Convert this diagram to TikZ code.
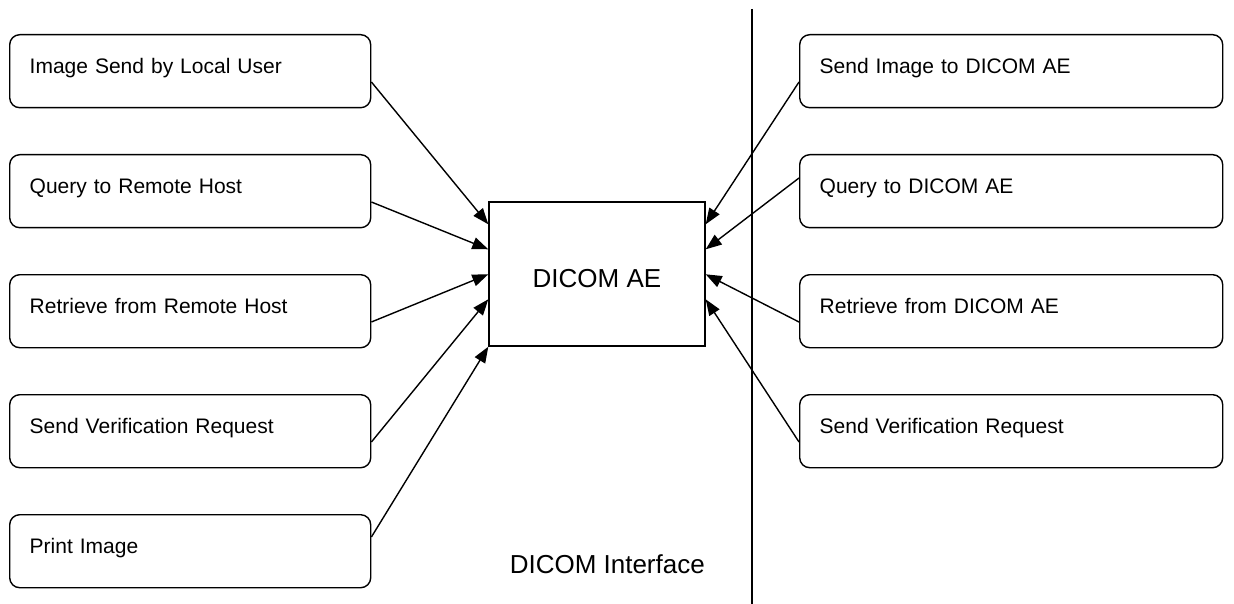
\documentclass[tikz,border=0pt]{standalone}
\usepackage{fontspec}
\setmainfont{Liberation Sans}
\usetikzlibrary{arrows.meta}
\begin{document}
\begin{tikzpicture}[x=1pt,y=-1pt,
  boxline/.style={draw, line width=1.4pt},
  lbox/.style={boxline, rounded corners=10pt, anchor=north west, align=left,
    text width=321pt, inner xsep=20pt, inner ysep=0pt,
    text height=38.5pt, text depth=34.5pt, font=\fontsize{21pt}{25pt}\selectfont},
  rbox/.style={lbox, text width=383pt},
  aebox/.style={boxline, minimum width=216pt, minimum height=144pt, inner sep=0pt,
    text height=26pt, text depth=0pt, font=\fontsize{26pt}{30pt}\selectfont},
  arr/.style={line width=1.4pt, -{Triangle[length=16pt,width=12pt]}}]
\useasboundingbox (0,0) rectangle (1234,604);

\node[lbox] (l1) at (9,34) {Image Send by Local User};
\node[lbox] (l2) at (9,154) {Query to Remote Host};
\node[lbox] (l3) at (9,274) {Retrieve from Remote Host};
\node[lbox] (l4) at (9,394) {Send Verification Request};
\node[lbox] (l5) at (9,514) {Print Image};

\node[rbox] (r1) at (799,34) {Send Image to DICOM AE};
\node[rbox] (r2) at (799,154) {Query to DICOM AE};
\node[rbox] (r3) at (799,274) {Retrieve from DICOM AE};
\node[rbox] (r4) at (799,394) {Send Verification Request};

\node[aebox] (ae) at (597,274) {DICOM AE};

\node[anchor=base east, inner sep=0pt, font=\fontsize{26pt}{30pt}\selectfont] (iface) at (705,573) {DICOM Interface};

\coordinate (vt) at (752,9);
\coordinate (vb) at (752,604);
\draw[line width=1.4pt] (vt) -- (vb);

\draw[arr] ([yshift=-48pt]l1.north east) -- ([yshift=-23pt]ae.north west);
\draw[arr] ([yshift=-48pt]l2.north east) -- ([yshift=-48pt]ae.north west);
\draw[arr] ([yshift=-48pt]l3.north east) -- ([yshift=-73pt]ae.north west);
\draw[arr] ([yshift=-48pt]l4.north east) -- ([yshift=-98pt]ae.north west);
\draw[arr] ([yshift=-23pt]l5.north east) -- (ae.south west);

\draw[arr] ([yshift=-48pt]r1.north west) -- ([yshift=-23pt]ae.north east);
\draw[arr] ([yshift=-24pt]r2.north west) -- ([yshift=-48pt]ae.north east);
\draw[arr] ([yshift=-48pt]r3.north west) -- ([yshift=-73pt]ae.north east);
\draw[arr] ([yshift=-48pt]r4.north west) -- ([yshift=-98pt]ae.north east);
\end{tikzpicture}
\end{document}
